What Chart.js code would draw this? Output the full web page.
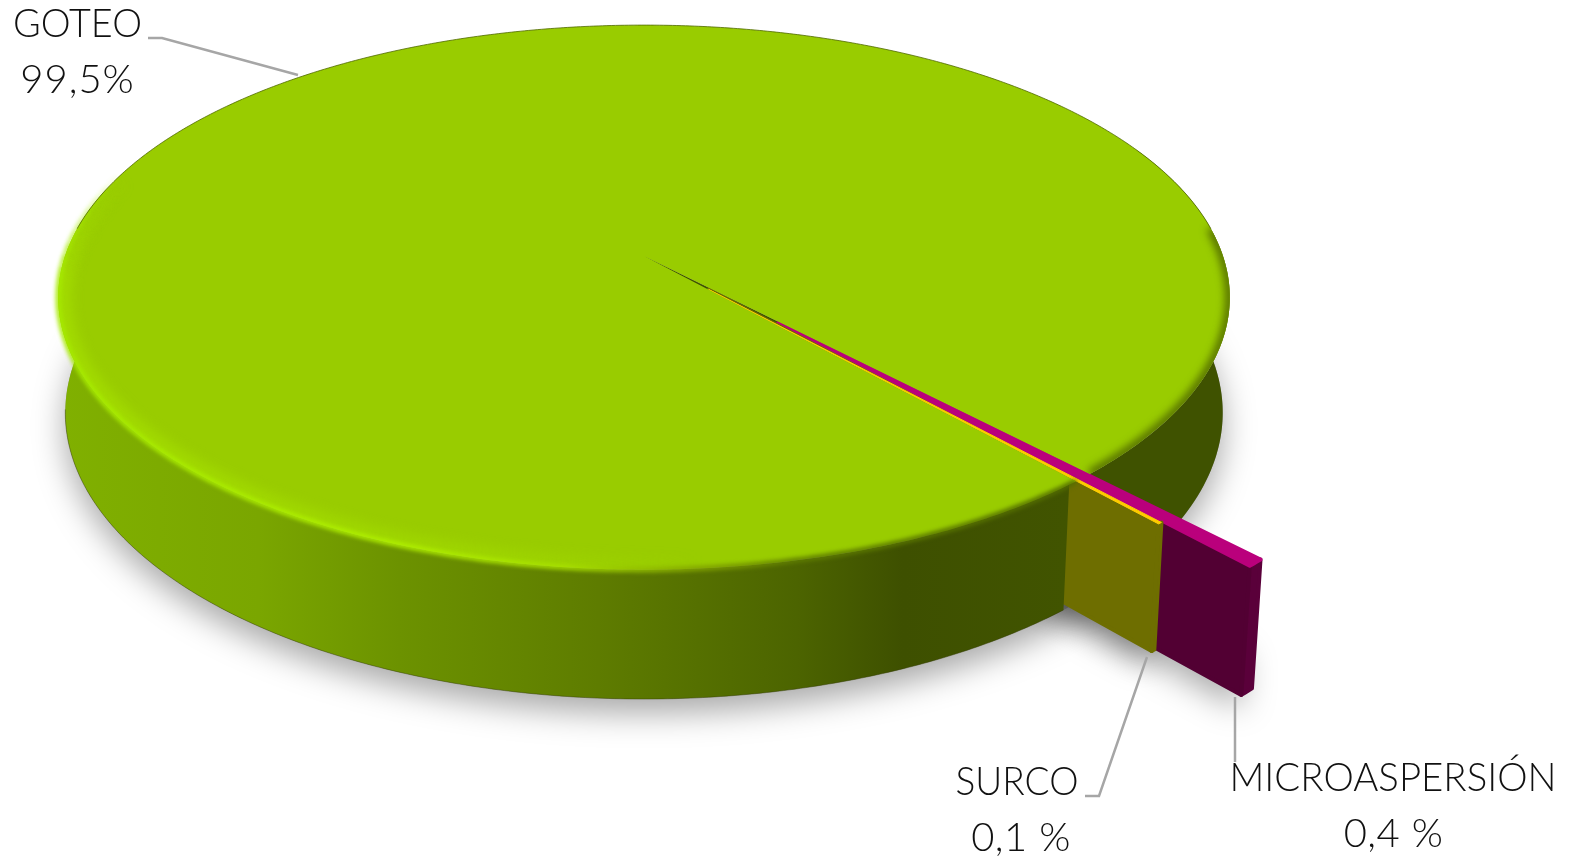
<!DOCTYPE html>
<html>
<head>
<meta charset="utf-8">
<title>Riego</title>
<script src="https://cdn.jsdelivr.net/npm/chart.js@4"></script>
<style>
  html, body { margin: 0; padding: 0; background: #fff; }
  #wrap { width: 1578px; height: 858px; }
</style>
</head>
<body>
<div id="wrap"><canvas id="pie" width="1578" height="858"></canvas></div>
<script>
const categories = ['GOTEO', 'MICROASPERSIÓN', 'SURCO'];
const shares = [99.5, 0.4, 0.1];
const shareLabels = ['99,5%', '0,4 %', '0,1 %'];

const topColors = ['#99CC00', '#BA007C', '#FFCC00'];
const sideColors = ['#3F5200', '#520033', '#6E6E00'];
const rimColors = ['#3F5200', '#5A003A', '#6E6E00'];
const topEdge = [0, 4, 1];
const explode = [0, 0.33, 0.165]; // pulled out, in pie radii

// camera: unit disc to screen, z = 0 top face, z = 1 bottom face
const cam = { ax: 644, ay: 256, rx: 579, ry: 266, depth: 115, q: 0.152, r: 0.012 };
function proj(x, y, z){
  const w = 1 - cam.q * y + cam.r * z;
  return [cam.ax + cam.rx * x / w, cam.ay + (cam.ry * y + cam.depth * z) / w];
}

const rad = d => d * Math.PI / 180;

function trace(ctx, pts){
  ctx.beginPath();
  pts.forEach((p, i) => i ? ctx.lineTo(p[0], p[1]) : ctx.moveTo(p[0], p[1]));
  ctx.closePath();
}

function strokeLine(ctx, pts){
  ctx.beginPath();
  pts.forEach((p, i) => i ? ctx.lineTo(p[0], p[1]) : ctx.moveTo(p[0], p[1]));
  ctx.stroke();
}

function arcPts(a0, a1, z, ex, ey){
  const pts = [];
  const n = Math.max(2, Math.ceil(Math.abs(a1 - a0) / rad(0.5)));
  for(let i = 0; i <= n; i++){
    const a = a0 + (a1 - a0) * i / n;
    pts.push(proj((ex || 0) + Math.cos(a), (ey || 0) + Math.sin(a), z));
  }
  return pts;
}

function band(a0, a1){
  return arcPts(a0, a1, 0).concat(arcPts(a1, a0, 1));
}

function wallGradient(ctx){
  const g = ctx.createLinearGradient(60, 0, 1230, 0);
  g.addColorStop(0, '#80B000');
  g.addColorStop(0.17, '#7AA600');
  g.addColorStop(0.29, '#6C9200');
  g.addColorStop(0.46, '#5E7C00');
  g.addColorStop(0.63, '#4C6400');
  g.addColorStop(0.72, '#3E5000');
  g.addColorStop(1, '#445800');
  return g;
}

function drawSlice(ctx, el, i){
  const mid = (el.startAngle + el.endAngle) / 2;
  const ex = explode[i] * Math.cos(mid), ey = explode[i] * Math.sin(mid);
  const a0 = el.startAngle, a1 = el.endAngle;
  const c = Math.cos(a1), s = Math.sin(a1);
  ctx.lineJoin = 'round';
  const face = [proj(ex, ey, 0), proj(ex + c, ey + s, 0), proj(ex + c, ey + s, 1), proj(ex, ey, 1)];
  const rim = arcPts(a0, a1, 0, ex, ey).concat(arcPts(a1, a0, 1, ex, ey));
  const top = [proj(ex, ey, 0)].concat(arcPts(a0, a1, 0, ex, ey));
  [[rim, rimColors[i], 4], [face, sideColors[i], 4], [top, topColors[i], topEdge[i]]].forEach(([pts, color, lw]) => {
    trace(ctx, pts);
    ctx.fillStyle = color;
    ctx.strokeStyle = color;
    ctx.lineWidth = lw;
    ctx.fill();
    ctx.stroke();
  });
}

function drawShadows(ctx, els){
  ctx.save();
  ctx.shadowColor = 'rgba(0,0,0,0.34)';
  ctx.shadowBlur = 32;
  ctx.shadowOffsetY = 14;
  ctx.fillStyle = '#999';
  trace(ctx, arcPts(0, Math.PI * 2, 1));
  ctx.fill();
  [1, 2].forEach(i => {
    const el = els[i];
    const mid = (el.startAngle + el.endAngle) / 2;
    const ex = explode[i] * Math.cos(mid), ey = explode[i] * Math.sin(mid);
    const c = Math.cos(el.endAngle), s = Math.sin(el.endAngle);
    trace(ctx, [proj(ex, ey, 1), proj(ex + c, ey + s, 1), proj(ex + c, ey + s, 0.6), proj(ex, ey, 0.6)]);
    ctx.fill();
  });
  ctx.restore();
}

// stroke the lit rim, the end of it up the left side fades out
function strokeLitRim(ctx, main){
  strokeLine(ctx, arcPts(main.startAngle, rad(178), 0));
  for(let k = 0; k < 8; k++){
    ctx.globalAlpha = 1 - (k + 1) / 9;
    strokeLine(ctx, arcPts(rad(178 + k * 2.5), rad(178 + (k + 1) * 2.5), 0));
  }
  ctx.globalAlpha = 1;
}

function drawBevel(ctx, main){
  const g = ctx.createLinearGradient(60, 0, 1230, 0);
  g.addColorStop(0, '#A6EA00');
  g.addColorStop(0.29, '#B0F000');
  g.addColorStop(0.43, '#A8E000');
  g.addColorStop(0.55, '#7FA000');
  g.addColorStop(0.63, '#5E7C00');
  g.addColorStop(1, '#4C6400');

  // wide soft glow inside the rim on the lit side
  const wide = ctx.createLinearGradient(60, 0, 700, 0);
  wide.addColorStop(0, 'rgba(170,232,0,0.55)');
  wide.addColorStop(0.7, 'rgba(170,232,0,0.3)');
  wide.addColorStop(1, 'rgba(170,232,0,0)');
  ctx.save();
  trace(ctx, [proj(0, 0, 0)].concat(arcPts(main.startAngle, main.endAngle, 0)));
  ctx.clip();
  ctx.filter = 'blur(6px)';
  ctx.strokeStyle = wide;
  ctx.lineWidth = 26;
  strokeLitRim(ctx, main);
  ctx.restore();

  ctx.save();
  ctx.filter = 'blur(2px)';
  ctx.strokeStyle = g;
  ctx.lineWidth = 5;
  strokeLitRim(ctx, main);
  ctx.restore();

  // right part of the rim goes soft and dark
  ctx.save();
  trace(ctx, [proj(0, 0, 0)].concat(arcPts(main.startAngle, main.endAngle, 0)));
  ctx.clip();
  ctx.filter = 'blur(4px)';
  ctx.strokeStyle = '#4A6000';
  ctx.lineWidth = 8;
  strokeLine(ctx, arcPts(rad(-6), main.endAngle - Math.PI * 2, 0));
  ctx.restore();

  // thin edge along the back of the top face
  ctx.strokeStyle = 'rgba(80,105,0,0.8)';
  ctx.lineWidth = 1;
  strokeLine(ctx, arcPts(rad(186), rad(354), 0));
}

const labelBoxes = [
  { cx: 77.5, vx: 77.5, y: [37, 93], w: 129, spacing: 1, line: [[148, 38], [162, 38], [298, 75]] },
  { cx: 1393, vx: 1393.5, y: [791, 847], w: 327, spacing: 0.5, line: [[1235, 697], [1235, 762]] },
  { cx: 1017, vx: 1021, y: [795, 851], w: 123, spacing: 0.5, line: [[1085, 796], [1099, 796], [1147, 657]] }
];

function drawLabels(ctx){
  categories.forEach((name, i) => {
    const box = labelBoxes[i];
    ctx.strokeStyle = '#A6A6A6';
    ctx.lineWidth = 2.5;
    ctx.lineJoin = 'miter';
    strokeLine(ctx, box.line);
    ctx.fillStyle = '#111';
    ctx.font = '300 40px Lato';
    ctx.textAlign = 'center';
    ctx.textBaseline = 'alphabetic';
    ctx.letterSpacing = '0px';
    ctx.fillText(name, box.cx, box.y[0], box.w);
    ctx.letterSpacing = box.spacing + 'px';
    ctx.fillText(shareLabels[i], box.vx, box.y[1]);
  });
}

const pie3d = {
  id: 'pie3d',
  beforeDatasetsDraw(chart){
    const ctx = chart.ctx;
    const els = chart.getDatasetMeta(0).data;
    const main = els[0];
    ctx.save();
    drawShadows(ctx, els);

    // back part of the goteo wall and the cut face seen in the gap
    trace(ctx, band(rad(-25), main.endAngle - Math.PI * 2));
    ctx.fillStyle = sideColors[0];
    ctx.fill();
    const c = Math.cos(main.endAngle), s = Math.sin(main.endAngle);
    trace(ctx, [proj(0, 0, 0), proj(c, s, 0), proj(c, s, 1), proj(0, 0, 1)]);
    ctx.fill();

    drawSlice(ctx, els[1], 1);
    drawSlice(ctx, els[2], 2);

    // front wall and top of goteo go last, they cover the slices
    trace(ctx, band(main.startAngle + rad(0.9), rad(195)));
    ctx.fillStyle = wallGradient(ctx);
    ctx.fill();
    ctx.strokeStyle = 'rgba(50,60,0,0.45)';
    ctx.lineWidth = 1;
    strokeLine(ctx, arcPts(main.startAngle + rad(0.9), rad(172), 1));
    trace(ctx, [proj(0, 0, 0)].concat(arcPts(main.startAngle, main.endAngle, 0)));
    ctx.fillStyle = main.options.backgroundColor;
    ctx.fill();
    drawBevel(ctx, main);

    drawLabels(ctx);
    ctx.restore();
    return false;
  }
};

new Chart(document.getElementById('pie'), {
  type: 'pie',
  data: {
    labels: categories,
    datasets: [{ data: shares, backgroundColor: topColors, borderWidth: 0 }]
  },
  options: {
    responsive: false,
    animation: false,
    rotation: 138.6,
    plugins: { legend: { display: false }, tooltip: { enabled: false } }
  },
  plugins: [pie3d]
});
</script>
</body>
</html>
